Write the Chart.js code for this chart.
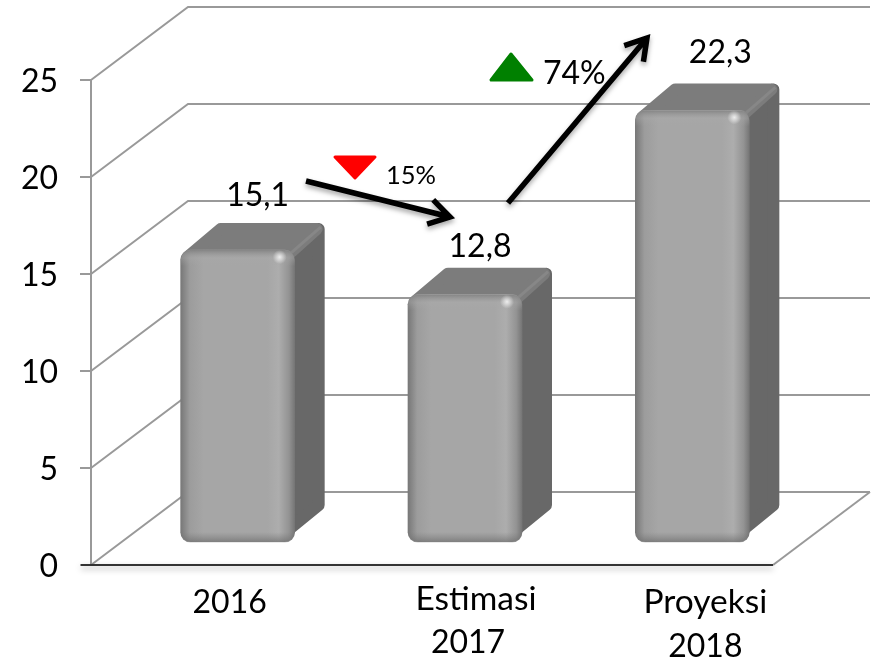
<!DOCTYPE html>
<html>
<head>
<meta charset="utf-8">
<style>
  html, body { margin: 0; padding: 0; background: #fff; }
  canvas { display: block; }
</style>
<script src="https://cdn.jsdelivr.net/npm/chart.js@4/dist/chart.umd.min.js"></script>
</head>
<body>
<canvas id="graf_1" width="877" height="662"></canvas>
<script>
var categories = [['2016'], ['Estimasi', '2017'], ['Proyeksi', '2018']];
var values = [15.1, 12.8, 22.3];
var valueLabels = ['15,1', '12,8', '22,3'];
var yTicks = [0, 5, 10, 15, 20, 25];

var FONT = 'Lato, Carlito, sans-serif';
var BAR_WIDTH = 114;
// the bars stand in the middle of the floor, the wall is at the back of it
var WALL = { dx: 97, dy: -73, right: 870 };
var BAR_SHIFT = { x: 33, y: -22 };
var BAR_DEPTH = { x: 30, y: -27 };

function frontGradient(c) {
  var x = c.chart.scales.x;
  var left = x ? x.getPixelForValue(c.dataIndex) - BAR_WIDTH / 2 : NaN;
  if (!isFinite(left)) return '#a6a6a6';
  var g = c.chart.ctx.createLinearGradient(left, 0, left + BAR_WIDTH, 0);
  g.addColorStop(0, '#787878');
  g.addColorStop(0.08, '#9c9c9c');
  g.addColorStop(0.2, '#a6a6a6');
  g.addColorStop(0.76, '#a6a6a6');
  g.addColorStop(0.86, '#adadad');
  g.addColorStop(0.95, '#939393');
  g.addColorStop(1, '#767676');
  return g;
}

function poly(ctx, pts) {
  ctx.beginPath();
  pts.forEach(function (p, i) {
    if (i === 0) ctx.moveTo(p[0], p[1]); else ctx.lineTo(p[0], p[1]);
  });
  ctx.closePath();
}

function arrow(ctx, x1, y1, x2, y2) {
  var a = Math.atan2(y2 - y1, x2 - x1);
  var head = 24;
  ctx.save();
  ctx.strokeStyle = '#000';
  ctx.lineWidth = 5.5;
  ctx.shadowColor = 'rgba(0,0,0,0.35)';
  ctx.shadowBlur = 5;
  ctx.shadowOffsetY = 3;
  ctx.beginPath();
  ctx.moveTo(x1, y1);
  ctx.lineTo(x2, y2);
  ctx.moveTo(x2 - head * Math.cos(a - 0.55), y2 - head * Math.sin(a - 0.55));
  ctx.lineTo(x2, y2);
  ctx.lineTo(x2 - head * Math.cos(a + 0.55), y2 - head * Math.sin(a + 0.55));
  ctx.stroke();
  ctx.restore();
}

function triangle(ctx, pts, color) {
  ctx.save();
  ctx.fillStyle = color;
  ctx.strokeStyle = color;
  ctx.lineWidth = 3;
  ctx.lineJoin = 'round';
  poly(ctx, pts);
  ctx.fill();
  ctx.stroke();
  ctx.restore();
}

var wall3d = {
  id: 'wall3d',
  beforeDatasetsDraw: function (chart) {
    var ctx = chart.ctx, y = chart.scales.y, area = chart.chartArea;
    ctx.save();
    ctx.strokeStyle = '#999';
    ctx.lineWidth = 2;
    yTicks.forEach(function (t) {
      var py = y.getPixelForValue(t);
      ctx.beginPath();
      ctx.moveTo(area.left, py);
      ctx.lineTo(area.left + WALL.dx, py + WALL.dy);
      ctx.lineTo(WALL.right, py + WALL.dy);
      ctx.stroke();
    });
    // right edge of the floor
    ctx.beginPath();
    ctx.moveTo(WALL.right, area.bottom + WALL.dy);
    ctx.lineTo(area.right, area.bottom);
    ctx.stroke();
    // dark base line with its soft shadow
    ctx.strokeStyle = '#333';
    ctx.shadowColor = 'rgba(0,0,0,0.35)';
    ctx.shadowBlur = 6;
    ctx.shadowOffsetY = 3;
    ctx.beginPath();
    ctx.moveTo(area.left - 10, area.bottom);
    ctx.lineTo(area.right, area.bottom);
    ctx.stroke();
    ctx.restore();
  },
  beforeDatasetDraw: function (chart) {
    var ctx = chart.ctx;
    ctx.save();
    ctx.translate(BAR_SHIFT.x, BAR_SHIFT.y);
    ctx.lineJoin = 'round';
    chart.getDatasetMeta(0).data.forEach(function (bar) {
      var l = bar.x - BAR_WIDTH / 2, r = bar.x + BAR_WIDTH / 2;
      var t = bar.y, b = bar.base;
      var dx = BAR_DEPTH.x, dy = BAR_DEPTH.y;
      ctx.lineWidth = 12;
      // side face
      ctx.fillStyle = ctx.strokeStyle = '#686868';
      poly(ctx, [[r - 8, t + 6], [r + dx - 6, t + dy + 6], [r + dx - 6, b + dy - 10], [r - 14, b - 6]]);
      ctx.fill();
      ctx.stroke();
      // top face
      ctx.fillStyle = ctx.strokeStyle = '#7c7c7c';
      poly(ctx, [[l + 8, t + 6], [l + dx + 10, t + dy + 6], [r + dx - 8, t + dy + 6], [r - 8, t + 6]]);
      ctx.fill();
      ctx.stroke();
      // lighter edge between top and side
      ctx.strokeStyle = '#878787';
      ctx.lineWidth = 3;
      ctx.beginPath();
      ctx.moveTo(r - 5, t + 4);
      ctx.lineTo(r + dx - 4, t + dy + 4);
      ctx.stroke();
    });
  },
  afterDatasetDraw: function (chart) {
    var ctx = chart.ctx;
    chart.getDatasetMeta(0).data.forEach(function (bar) {
      var l = bar.x - BAR_WIDTH / 2, r = bar.x + BAR_WIDTH / 2;
      // bevel along the top and the bottom of the front face
      var top = ctx.createLinearGradient(0, bar.y, 0, bar.y + 16);
      top.addColorStop(0, 'rgba(125,125,125,0.8)');
      top.addColorStop(0.5, 'rgba(170,170,170,0.4)');
      top.addColorStop(1, 'rgba(166,166,166,0)');
      ctx.fillStyle = top;
      ctx.beginPath();
      ctx.roundRect(l, bar.y, BAR_WIDTH, 16, [10, 10, 0, 0]);
      ctx.fill();
      var bottom = ctx.createLinearGradient(0, bar.base - 10, 0, bar.base);
      bottom.addColorStop(0, 'rgba(120,120,120,0)');
      bottom.addColorStop(1, 'rgba(105,105,105,0.65)');
      ctx.fillStyle = bottom;
      ctx.beginPath();
      ctx.roundRect(l, bar.base - 10, BAR_WIDTH, 10, [0, 0, 10, 10]);
      ctx.fill();
      // highlight on the corner
      var spot = ctx.createRadialGradient(r - 15, bar.y + 7, 0, r - 15, bar.y + 7, 7);
      spot.addColorStop(0, 'rgba(255,255,255,0.8)');
      spot.addColorStop(1, 'rgba(255,255,255,0)');
      ctx.fillStyle = spot;
      ctx.fillRect(r - 23, bar.y - 1, 16, 16);
    });
    ctx.restore();
  },
  afterDatasetsDraw: function (chart) {
    var ctx = chart.ctx, x = chart.scales.x;
    var labelShiftX = [[25], [44, 36], [46, 46]];
    var labelShiftY = [-76, -70, -80];
    var valueShiftX = [53, 48, 61];
    var lineY = [[603], [599, 643], [602, 647]];
    ctx.save();
    ctx.fillStyle = '#000';
    ctx.textAlign = 'center';
    ctx.textBaseline = 'middle';
    ctx.font = '32px ' + FONT;
    // value labels above the bars
    chart.getDatasetMeta(0).data.forEach(function (bar, i) {
      ctx.fillText(valueLabels[i], bar.x + valueShiftX[i], bar.y + labelShiftY[i]);
    });
    // category labels
    categories.forEach(function (lines, i) {
      lines.forEach(function (line, j) {
        ctx.font = (line.length > 4 ? '33.5px ' : '32px ') + FONT;
        ctx.fillText(line, x.getPixelForValue(i) + labelShiftX[i][j], lineY[i][j]);
      });
    });
    ctx.restore();

    // change arrows and percentages
    arrow(ctx, 306, 181, 450, 217);
    arrow(ctx, 508, 203, 647, 38);
    triangle(ctx, [[335, 157], [375, 157], [355, 178]], '#ff0000');
    triangle(ctx, [[491, 80], [532, 80], [511, 54]], '#008000');
    ctx.save();
    ctx.fillStyle = '#000';
    ctx.textBaseline = 'middle';
    ctx.font = '25.5px ' + FONT;
    ctx.fillText('15%', 386, 176);
    ctx.font = '32px ' + FONT;
    ctx.fillText('74%', 543, 74);
    ctx.restore();
  }
};

var ctx = document.getElementById('graf_1').getContext('2d');
var chart = new Chart(ctx, {
  type: 'bar',
  data: {
    labels: categories,
    datasets: [{
      data: values,
      backgroundColor: frontGradient,
      borderWidth: 0,
      borderRadius: 10,
      borderSkipped: false,
      barThickness: BAR_WIDTH,
      clip: false
    }]
  },
  plugins: [wall3d],
  options: {
    responsive: false,
    animation: false,
    devicePixelRatio: 1,
    layout: { padding: { top: 80, right: 104, left: 0, bottom: 0 } },
    plugins: { legend: { display: false }, tooltip: { enabled: false } },
    scales: {
      x: {
        afterFit: function (s) { s.height = 97; },
        grid: { display: false },
        border: { display: false },
        ticks: { display: false }
      },
      y: {
        min: 0,
        max: 25,
        afterFit: function (s) { s.width = 91; },
        afterBuildTicks: function (s) { s.ticks = yTicks.map(function (v) { return { value: v }; }); },
        grid: { drawOnChartArea: false, color: '#999', lineWidth: 2, tickLength: 11 },
        border: { color: '#999', width: 2 },
        ticks: {
          color: '#000',
          padding: 22,
          labelOffset: 2,
          font: { family: FONT, size: 32 }
        }
      }
    }
  }
});
</script>
</body>
</html>
